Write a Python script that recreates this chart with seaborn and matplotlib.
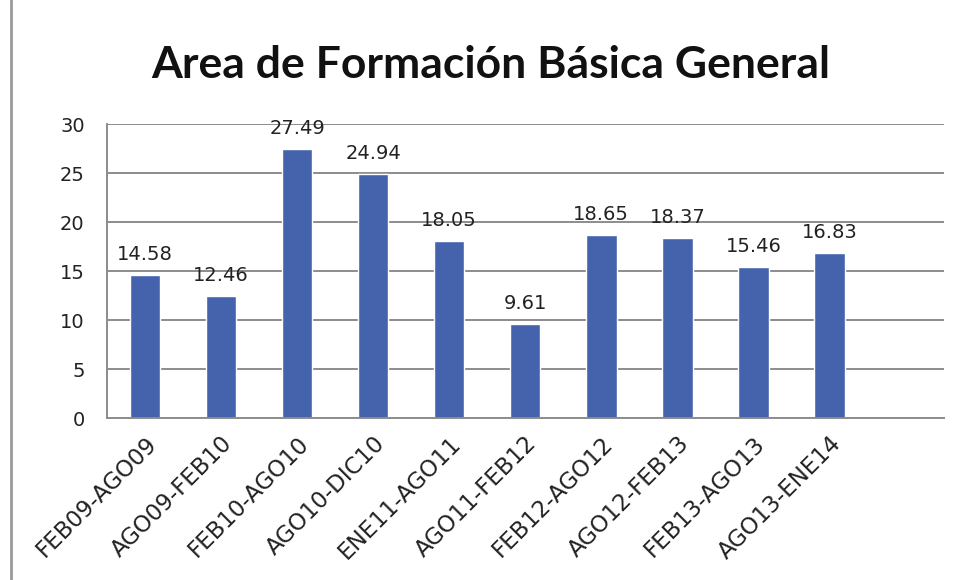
import matplotlib
matplotlib.use('Agg')
import matplotlib.pyplot as plt
import seaborn as sns
import numpy as np
import pandas as pd
from matplotlib.lines import Line2D

# datos
periodos = ['FEB09-AGO09', 'AGO09-FEB10', 'FEB10-AGO10', 'AGO10-DIC10', 'ENE11-AGO11',
            'AGO11-FEB12', 'FEB12-AGO12', 'AGO12-FEB13', 'FEB13-AGO13', 'AGO13-ENE14']
valores = [14.58, 12.46, 27.49, 24.94, 18.05, 9.61, 18.65, 18.37, 15.46, 16.83]
yticks = [0, 5, 10, 15, 20, 25, 30]

df = pd.DataFrame({'periodo': periodos, 'valor': valores})

sns.set_style('white')
plt.rcParams['font.family'] = ['DejaVu Sans']

fig = plt.figure(figsize=(9.55, 5.8), dpi=100)
ax = fig.add_axes([0.112, 0.279, 0.876, 0.507])

sns.barplot(data=df, x='periodo', y='valor', color='#4563AC', width=0.4,
            saturation=1, ax=ax)

# etiquetas de valores
for i, v in enumerate(valores):
    ax.annotate(f'{v:.2f}', (i, v), xytext=(0, 8), textcoords='offset points',
                ha='center', va='bottom', fontsize=14, color='#222222')

ax.set_xlim(-0.5, 10.5)
ax.set_ylim(0, 30)
ax.set_yticks(yticks)
ax.yaxis.grid(True, color='#8c8c8c', linewidth=1.4)
ax.set_axisbelow(True)
ax.set_xlabel('')
ax.set_ylabel('')

ax.set_xticks(range(len(periodos)))
ax.set_xticklabels(periodos, rotation=45, ha='right', rotation_mode='anchor',
                   fontsize=16.5, color='#222222')
ax.tick_params(axis='x', which='major', length=0, pad=10)
ax.set_xticks(np.arange(-0.5, 11, 1), minor=True)
ax.tick_params(axis='x', which='minor', length=8, color='#8c8c8c', width=1.4)
ax.tick_params(axis='y', length=10, color='#8c8c8c', width=1.4, labelsize=14,
               labelcolor='#222222', pad=6)

for s in ['top', 'right']:
    ax.spines[s].set_visible(False)
for s in ['left', 'bottom']:
    ax.spines[s].set_color('#8c8c8c')
    ax.spines[s].set_linewidth(1.4)

fig.text(0.514, 0.888, 'Area de Formación Básica General', ha='center', va='center',
         fontsize=32, fontweight='bold', family=['Lato', 'DejaVu Sans'], color='#111111')

# borde izquierdo de la captura
fig.add_artist(Line2D([0.011, 0.011], [0, 1], transform=fig.transFigure,
                      color='#9a9a9a', linewidth=2))

fig.savefig('out.png', dpi=100)
